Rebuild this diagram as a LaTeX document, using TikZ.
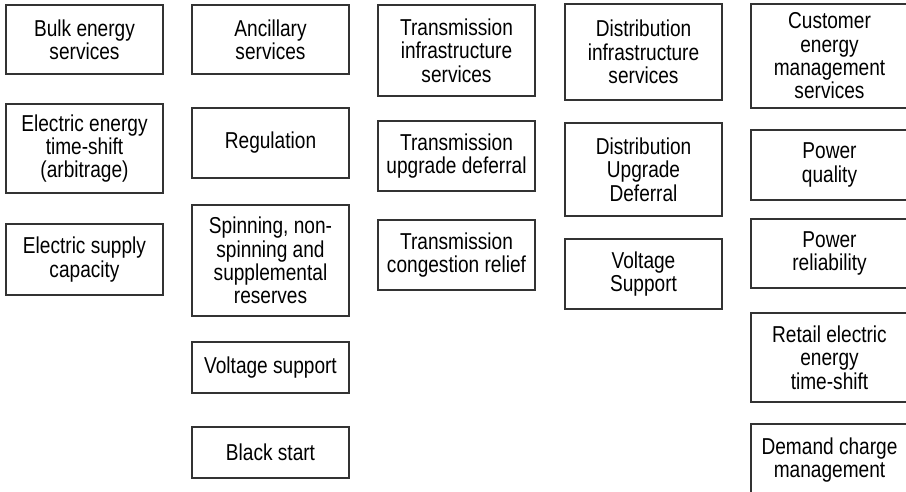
\documentclass[tikz,border=0pt]{standalone}
\usepackage{fontspec}
\setmainfont{Liberation Sans}[FakeStretch=0.83]
\begin{document}
\begin{tikzpicture}[x=1pt,y=-1pt,
  svc/.style={draw=black!80, line width=1.2pt, minimum width=157pt,
    inner sep=0pt, align=center, font=\fontsize{23}{23.3}\selectfont}]
\useasboundingbox (0,0) rectangle (906,492);
% bulk energy column
\node[svc, minimum height=69pt] (bulk) at (84.5,39.5) {Bulk energy\\services};
\node[svc, minimum height=89pt] (arb) at (84.5,148.5) {Electric energy\\time-shift\\(arbitrage)};
\node[svc, minimum height=71pt] (cap) at (84.5,259.5) {Electric supply\\capacity};
% ancillary column
\node[svc, minimum height=69pt] (anc) at (270.5,39.5) {Ancillary\\services};
\node[svc, minimum height=70pt] (reg) at (270.5,143) {Regulation};
\node[svc, minimum height=111pt] (res) at (270.5,260.5) {Spinning, non-\\spinning and\\supplemental\\reserves};
\node[svc, minimum height=51pt] (volt) at (270.5,367.5) {Voltage support};
\node[svc, minimum height=51pt] (black) at (270.5,452.5) {Black start};
% transmission column
\node[svc, minimum height=91pt] (trans) at (456.5,50.5) {Transmission\\infrastructure\\services};
\node[svc, minimum height=70pt] (tdef) at (456.5,156) {Transmission\\upgrade deferral};
\node[svc, minimum height=70pt] (tcong) at (456.5,255) {Transmission\\congestion relief};
% distribution column
\node[svc, minimum height=96pt] (dist) at (643.5,52) {Distribution\\infrastructure\\services};
\node[svc, minimum height=93pt] (ddef) at (643.5,169.5) {Distribution\\Upgrade\\Deferral};
\node[svc, minimum height=70pt] (dvolt) at (643.5,274) {Voltage\\Support};
% customer column
\node[svc, minimum height=104pt] (cust) at (829.5,56) {Customer\\energy\\management\\services};
\node[svc, minimum height=70pt] (pq) at (829.5,165) {Power\\quality};
\node[svc, minimum height=69pt] (pr) at (829.5,253.5) {Power\\reliability};
\node[svc, minimum height=89pt] (retail) at (829.5,357.5) {Retail electric\\energy\\time-shift};
\node[svc, minimum height=72pt] (demand) at (829.5,460) {Demand charge\\management};
\end{tikzpicture}
\end{document}
